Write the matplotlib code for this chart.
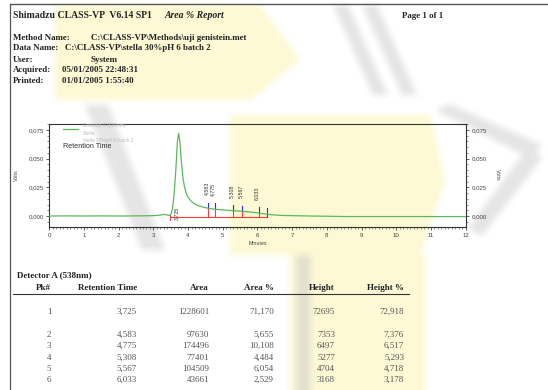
import matplotlib
matplotlib.use("Agg")
import matplotlib.pyplot as plt
import numpy as np
from matplotlib.path import Path
from matplotlib.ticker import MultipleLocator, FuncFormatter
import matplotlib.transforms as mtransforms

W, H = 548, 390
fig = plt.figure(figsize=(W / 100, H / 100), dpi=100)
fig.patch.set_facecolor("white")

SERIF = ["Liberation Serif", "DejaVu Serif"]
SANS = ["Liberation Sans", "DejaVu Sans"]

# ---- report data -------------------------------------------------------
peak_no = [1, 2, 3, 4, 5, 6]
ret_time = [3.725, 4.583, 4.775, 5.308, 5.567, 6.033]
area = [1228601, 97630, 174496, 77401, 104509, 43661]
area_pct = [71.170, 5.655, 10.108, 4.484, 6.054, 2.529]
height_uv = [72695, 7353, 6497, 5277, 4704, 3168]
height_pct = [72.918, 7.376, 6.517, 5.293, 4.718, 3.178]

# detector trace (minutes, volts)
trace_t = [0.0, 0.5, 1.0, 1.5, 2.0, 2.5, 3.0, 3.2, 3.3, 3.38, 3.45, 3.5,
           3.55, 3.6, 3.65, 3.69, 3.725, 3.76, 3.8, 3.85, 3.9, 3.95, 4.0,
           4.1, 4.2, 4.3, 4.45, 4.583, 4.775, 5.0, 5.308, 5.567, 5.8,
           6.033, 6.2, 6.4, 6.7, 7.0, 7.5, 8.0, 8.6, 9.5, 10.5, 12.0]
trace_v = [0.0, 0.0001, 0.0, 0.0001, 0.0, 0.0001, 0.0003, 0.0008, 0.0014,
           0.0010, 0.0005, 0.0012, 0.006, 0.020, 0.042, 0.064, 0.0721,
           0.066, 0.050, 0.033, 0.025, 0.0195, 0.0162, 0.0125, 0.0103,
           0.0090, 0.0076, 0.00675, 0.0059, 0.0053, 0.00468, 0.0041,
           0.0034, 0.00257, 0.0018, 0.0011, 0.0005, 0.0003, 0.0, -0.0002,
           -0.0005, -0.0005, -0.0005, -0.0005]

baseline_v = -0.0006
baseline_start, baseline_end = 3.48, 6.27

header_lines = [
    ("Method Name:", "C:\\CLASS-VP\\Methods\\uji genistein.met", 91),
    ("Data Name:", "C:\\CLASS-VP\\stella 30%pH 6 batch 2", 65),
    ("User:", "System", 91),
    ("Acquired:", "05/01/2005 22:48:31", 62),
    ("Printed:", "01/01/2005 1:55:40", 62),
]
header_y = [37.5, 48.5, 59.5, 70.5, 81]


def fx(x):
    return x / W


def fy(y):
    return 1 - y / H


def ptext(x, y, s, **kw):
    fig.text(fx(x), fy(y), s, **kw)


# ---- faint, soft watermark behind the page content ---------------------
yellow_shapes = [
    [(55, 5), (260, 5), (300, 60), (250, 100), (55, 100)],
    [(230, 115), (430, 115), (445, 180), (420, 255), (230, 255)],
    [(290, 255), (425, 255), (425, 390), (290, 390)],
]
grey_shapes = [
    [(333, 5), (348, 5), (388, 95), (373, 95)],
    [(362, 5), (377, 5), (417, 95), (402, 95)],
    [(435, 110), (450, 104), (542, 145), (530, 158)],
    [(530, 145), (542, 158), (482, 236), (468, 228)],
    [(296, 255), (311, 255), (311, 390), (296, 390)],
    [(85, 105), (108, 105), (165, 250), (142, 250)],
]

gx, gy = np.meshgrid(np.arange(W) + 0.5, np.arange(H) + 0.5)
grid_pts = np.column_stack([gx.ravel(), gy.ravel()])
canvas = np.ones((H, W, 3))


def paint(shapes, rgb, alpha):
    m = np.zeros(H * W, dtype=bool)
    for pts in shapes:
        m |= Path(pts).contains_points(grid_pts)
    m = m.reshape(H, W)
    for c in range(3):
        canvas[..., c] = np.where(m, canvas[..., c] * (1 - alpha) + rgb[c] * alpha, canvas[..., c])


paint(yellow_shapes, (0.99, 0.96, 0.70), 0.55)
paint(grey_shapes, (0.78, 0.78, 0.78), 0.45)

kernel = np.ones(9) / 9.0
for c in range(3):
    ch = np.pad(canvas[..., c], 4, mode="edge")
    ch = np.apply_along_axis(lambda r: np.convolve(r, kernel, mode="valid"), 1, ch)
    ch = np.apply_along_axis(lambda r: np.convolve(r, kernel, mode="valid"), 0, ch)
    canvas[..., c] = ch

bg = fig.add_axes([0, 0, 1, 1], zorder=-5)
bg.imshow(canvas, extent=(0, W, H, 0), interpolation="bilinear", aspect="auto")
bg.set_xlim(0, W)
bg.set_ylim(H, 0)
bg.axis("off")

# ---- page frame --------------------------------------------------------
fig.add_artist(plt.Line2D([fx(10), fx(548)], [fy(4), fy(4)], color="#555555", lw=1.0))
fig.add_artist(plt.Line2D([fx(10), fx(10)], [fy(4), fy(390)], color="#555555", lw=0.9))

# ---- header ------------------------------------------------------------
ptext(13, 15.7, "Shimadzu CLASS-VP  V6.14 SP1", family=SERIF, weight="bold",
      fontsize=7.0, va="center", color="#222222")
ptext(164, 15.7, "Area % Report", family=SERIF, weight="bold", style="italic",
      fontsize=7.0, va="center", color="#222222")
ptext(402, 15.7, "Page 1 of 1", family=SERIF, weight="bold", fontsize=6.4,
      va="center", color="#222222")

for (lab, val, vx), y in zip(header_lines, header_y):
    ptext(13, y, lab, family=SERIF, weight="bold", fontsize=6.4, va="center", color="#222222")
    ptext(vx, y, val, family=SERIF, weight="bold", fontsize=6.4, va="center", color="#222222")

# ---- chromatogram ------------------------------------------------------
ax_l, ax_r, ax_t, ax_b = 49.3, 465.7, 124.0, 227.3
ax = fig.add_axes([fx(ax_l), fy(ax_b), (ax_r - ax_l) / W, (ax_b - ax_t) / H])
ax.set_facecolor("none")
ax.set_xlim(0, 12)
ax.set_ylim(-0.00985, 0.0802)

ax.plot(trace_t, trace_v, color="#5cb85c", lw=0.9, zorder=3)

# integration baseline and peak markers
ax.plot([baseline_start, baseline_end], [baseline_v, baseline_v], color="#ff3b3b", lw=0.8, zorder=2)
ax.plot([baseline_start, baseline_start], [-0.0035, 0.001], color="#ff3b3b", lw=0.8, zorder=2)
for rt in ret_time[1:]:
    cv = trace_v[trace_t.index(rt)]
    ax.plot([rt, rt], [baseline_v, cv], color="#ff3b3b", lw=0.8, zorder=2)
    ax.plot([rt, rt], [cv, cv + 0.005], color="#2a2aff", lw=0.8, zorder=2)
ax.plot([baseline_end, baseline_end], [-0.0011, 0.0067], color="#2a2aff", lw=0.8, zorder=2)

shift = mtransforms.offset_copy(ax.transData, fig=fig, x=-1.5, y=0, units="points")
for i, rt in enumerate(ret_time):
    lab = f"{rt:.3f}".replace(".", ",")
    if i == 0:
        y0 = -0.0035
    else:
        y0 = trace_v[trace_t.index(rt)] + 0.0113
    ax.text(rt, y0, lab, rotation=90, ha="center", va="bottom", fontsize=3.8,
            family=SANS, color="#333333", transform=shift, zorder=4)

# legend block
ax.plot([0.4, 0.83], [0.0755, 0.0755], color="#5cb85c", lw=0.9)
legend_lines = ["Detector A (538nm)", "Stella", "stella 30%pH 6 batch 2"]
for j, s in enumerate(legend_lines):
    ax.text(0.97, 0.0785 - j * 0.0065, s, fontsize=3.5, family=SANS, color="#bbbbbb", va="center")
ax.text(0.4, 0.0605, "Retention Time", fontsize=5.2, family=SANS, color="#333333", va="center")

# axes styling
fmt = FuncFormatter(lambda v, p: f"{v:.3f}".replace(".", ",").replace("-", ""))
ax.xaxis.set_major_locator(MultipleLocator(1))
ax.xaxis.set_minor_locator(MultipleLocator(0.1))
ax.yaxis.set_major_locator(MultipleLocator(0.025))
ax.yaxis.set_minor_locator(MultipleLocator(0.005))
ax.yaxis.set_major_formatter(fmt)
ax.set_yticks([0.0, 0.025, 0.05, 0.075])
ax.tick_params(axis="both", which="major", labelsize=4.4, colors="#444444", length=2.5,
               width=0.6, pad=1.5, labelfontfamily="Liberation Sans")
ax.tick_params(axis="both", which="minor", length=1.3, width=0.5, colors="#666666")
ax.tick_params(axis="y", which="both", left=True, right=True, labelleft=True, labelright=True)
for sp in ax.spines.values():
    sp.set_color("#333333")
    sp.set_linewidth(0.8)

ptext(258, 243.5, "Minutes", family=SANS, fontsize=3.8, ha="center", va="center", color="#444444")
ptext(16, 175, "Volts", family=SANS, fontsize=3.8, ha="center", va="center", rotation=90, color="#444444")
ptext(497, 175, "Volts", family=SANS, fontsize=3.8, ha="center", va="center", rotation=270, color="#444444")

# ---- peak table --------------------------------------------------------
TS = 6.5
ptext(17, 275, "Detector A (538nm)", family=SERIF, weight="bold", fontsize=TS, va="center", color="#222222")
hy = 287.5
hkw = dict(family=SERIF, weight="bold", fontsize=TS, va="center", color="#222222")
ptext(43, hy, "Pk#", ha="center", **hkw)
ptext(137, hy, "Retention Time", ha="right", **hkw)
ptext(209, hy, "Area", ha="right", **hkw)
ptext(274, hy, "Area %", ha="right", **hkw)
ptext(335, hy, "Height", ha="right", **hkw)
ptext(404, hy, "Height %", ha="right", **hkw)
fig.add_artist(plt.Line2D([fx(13), fx(409)], [fy(293.5), fy(293.5)], color="#333333", lw=0.8))

row_y = [312, 335, 346, 357.5, 369, 380]


def dec(v):
    return f"{v:.3f}".replace(".", ",")


for k in range(len(peak_no)):
    y = row_y[k]
    kw = dict(family=SERIF, fontsize=TS, va="center", color="#555555")
    ptext(49, y, str(peak_no[k]), ha="center", **kw)
    ptext(137, y, dec(ret_time[k]), ha="right", **kw)
    ptext(209, y, str(area[k]), ha="right", **kw)
    ptext(274, y, dec(area_pct[k]), ha="right", **kw)
    ptext(335, y, str(height_uv[k]), ha="right", **kw)
    ptext(404, y, dec(height_pct[k]), ha="right", **kw)

fig.savefig("out.png", dpi=100)
